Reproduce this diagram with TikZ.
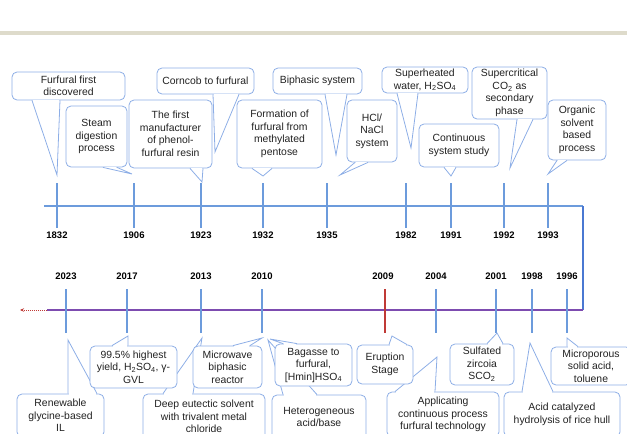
\documentclass[tikz,border=0pt]{standalone}
\usepackage{fontspec}
\setmainfont{Liberation Sans}
\usetikzlibrary{arrows.meta}
\definecolor{bandgray}{HTML}{DEDBCB}
\definecolor{boxblue}{HTML}{8DAEE6}
\definecolor{tickblue}{HTML}{6C9BDC}
\definecolor{lineblue}{HTML}{4A78D2}
\definecolor{linepurple}{HTML}{7D4CB0}
\definecolor{tickred}{HTML}{C03A36}
\definecolor{txtgray}{HTML}{222222}
\tikzset{
  box/.style={draw=boxblue, fill=white, rounded corners=5pt, line width=0.8pt,
    align=center, inner sep=0.5pt, text=txtgray,
    font=\fontsize{10.4}{12.5}\selectfont},
  ptr/.style={draw=boxblue, line width=0.8pt},
  gap/.style={white, line width=1.8pt, shorten <=0.8pt, shorten >=0.8pt},
  year/.style={inner sep=0pt, font=\fontsize{9.5}{10}\selectfont\bfseries},
  tick/.style={tickblue, line width=1.4pt}
}

\begin{document}
\begin{tikzpicture}[x=1pt, y=-1pt]
    \useasboundingbox (0,0) rectangle (627,434);
    \clip (0,0) rectangle (627,434);

    % Header band
    \fill[bandgray] (0,31) rectangle (627,35);

    % Timeline
    \draw[tickblue, line width=1.4pt] (44,206) -- (583,206);
    \draw[lineblue, line width=1.4pt] (583,206) -- (583,310);
    \draw[linepurple, line width=1.4pt] (583,310) -- (47,310);
    \draw[tickred, densely dotted, line width=1pt, -{Stealth[length=4pt,width=3.5pt]}] (47,310) -- (20,310);

    % Ticks and years
    \foreach \x/\yr in {57/1832, 134/1906, 201/1923, 263/1932, 327/1935, 406/1982, 451/1991, 504/1992, 548/1993}
    {
        \draw[tick] (\x,183) -- (\x,228);
        \node[year] (y\yr) at (\x,235) {\yr};
    }
    \foreach \x/\yr in {66/2023, 127/2017, 201/2013, 262/2010, 436/2004, 496/2001, 532/1998, 567/1996}
    {
        \draw[tick] (\x,289) -- (\x,333);
        \node[year] (y\yr) at (\x,276) {\yr};
    }
    \draw[tick, tickred] (385,289) -- (385,333);
    \node[year] (y2009) at (383,276) {2009};

    % Callouts above the line
    \foreach \nm/\pos/\bw/\bh/\xa/\xb/\tip/\txt in {
        c1832/{68.5,86}/113/28/32/60/{57,175}/{Furfural first\\discovered},
        c1906/{96.5,136.5}/61/61/103/117/{132,174}/{Steam\\digestion\\process},
        c1923/{170.5,134}/83/68/190/203/{202,182}/{The first\\manufacturer\\of phenol-\\furfural resin},
        corncob/{205.5,81}/97/26/213/239/{215,152}/{Corncob to furfural},
        c1932/{279.5,134}/85/68/252/272/{263,176}/{Formation of\\furfural from\\methylated\\pentose},
        biphasic/{317.5,81}/89/26/325/347/{336,155}/{Biphasic system},
        c1935/{372,131}/50/62/355/368/{340,175}/{HCl/\\NaCl\\system},
        c1982/{425,80}/86/26/397/418/{411,148}/{Superheated\\water, H\textsubscript{2}SO\textsubscript{4}},
        c1991/{459,145.5}/80/43/444/456/{451,176}/{Continuous\\system study},
        c1992/{509.5,93}/75/52/517/533/{510,168}/{Supercritical\\CO\textsubscript{2} as\\secondary\\phase},
        c1993/{577,130}/58/60/557/567/{548,174}/{Organic\\solvent\\based\\process}}
    {
        \node[box, minimum width=\bw pt, minimum height=\bh pt] (\nm) at (\pos) {\txt};
        \draw[gap] (\nm.south -| \xa,0) -- (\nm.south -| \xb,0);
        \draw[ptr] (\nm.south -| \xa,0) -- (\tip) -- (\nm.south -| \xb,0);
    }

    % Callouts below the line
    \foreach \nm/\pos/\bw/\bh/\xa/\xb/\tip/\txt in {
        c2023/{60.5,415.5}/87/43/68/97/{68,340}/{Renewable\\glycine-based\\IL},
        c2013/{204,416.5}/122/45/163/193/{202,338}/{Deep eutectic solvent\\with trivalent metal\\chloride},
        c2017/{133.5,367}/87/42/112/128/{128,336}/{99.5\% highest\\yield, H\textsubscript{2}SO\textsubscript{4}, γ-\\GVL},
        c2010/{227.5,367}/69/42/233/250/{262,338}/{Microwave\\biphasic\\reactor},
        hetero/{319,417}/94/44/283/317/{268,340}/{Heterogeneous\\acid/base},
        bagasse/{313.5,365}/77/42/283/297/{270,339}/{Bagasse to\\furfural,\\{[}Hmin{]}HSO\textsubscript{4}},
        c2004/{443,414.5}/112/45/395/435/{437,357}/{Applicating\\continuous process\\furfural technology},
        c2009/{385,364.5}/56/39/389/407/{392,336}/{Eruption\\Stage},
        c2001/{482,364.5}/64/41/487/503/{497,333}/{Sulfated\\zircoia\\SCO\textsubscript{2}},
        c1998/{562,414.5}/116/45/522/553/{530,343}/{Acid catalyzed\\hydrolysis of rice hull},
        c1996/{591,366}/80/38/567/578/{567,338}/{Microporous\\solid acid,\\toluene}}
    {
        \node[box, minimum width=\bw pt, minimum height=\bh pt] (\nm) at (\pos) {\txt};
        \draw[gap] (\nm.north -| \xa,0) -- (\nm.north -| \xb,0);
        \draw[ptr] (\nm.north -| \xa,0) -- (\tip) -- (\nm.north -| \xb,0);
    }
\end{tikzpicture}
\end{document}
